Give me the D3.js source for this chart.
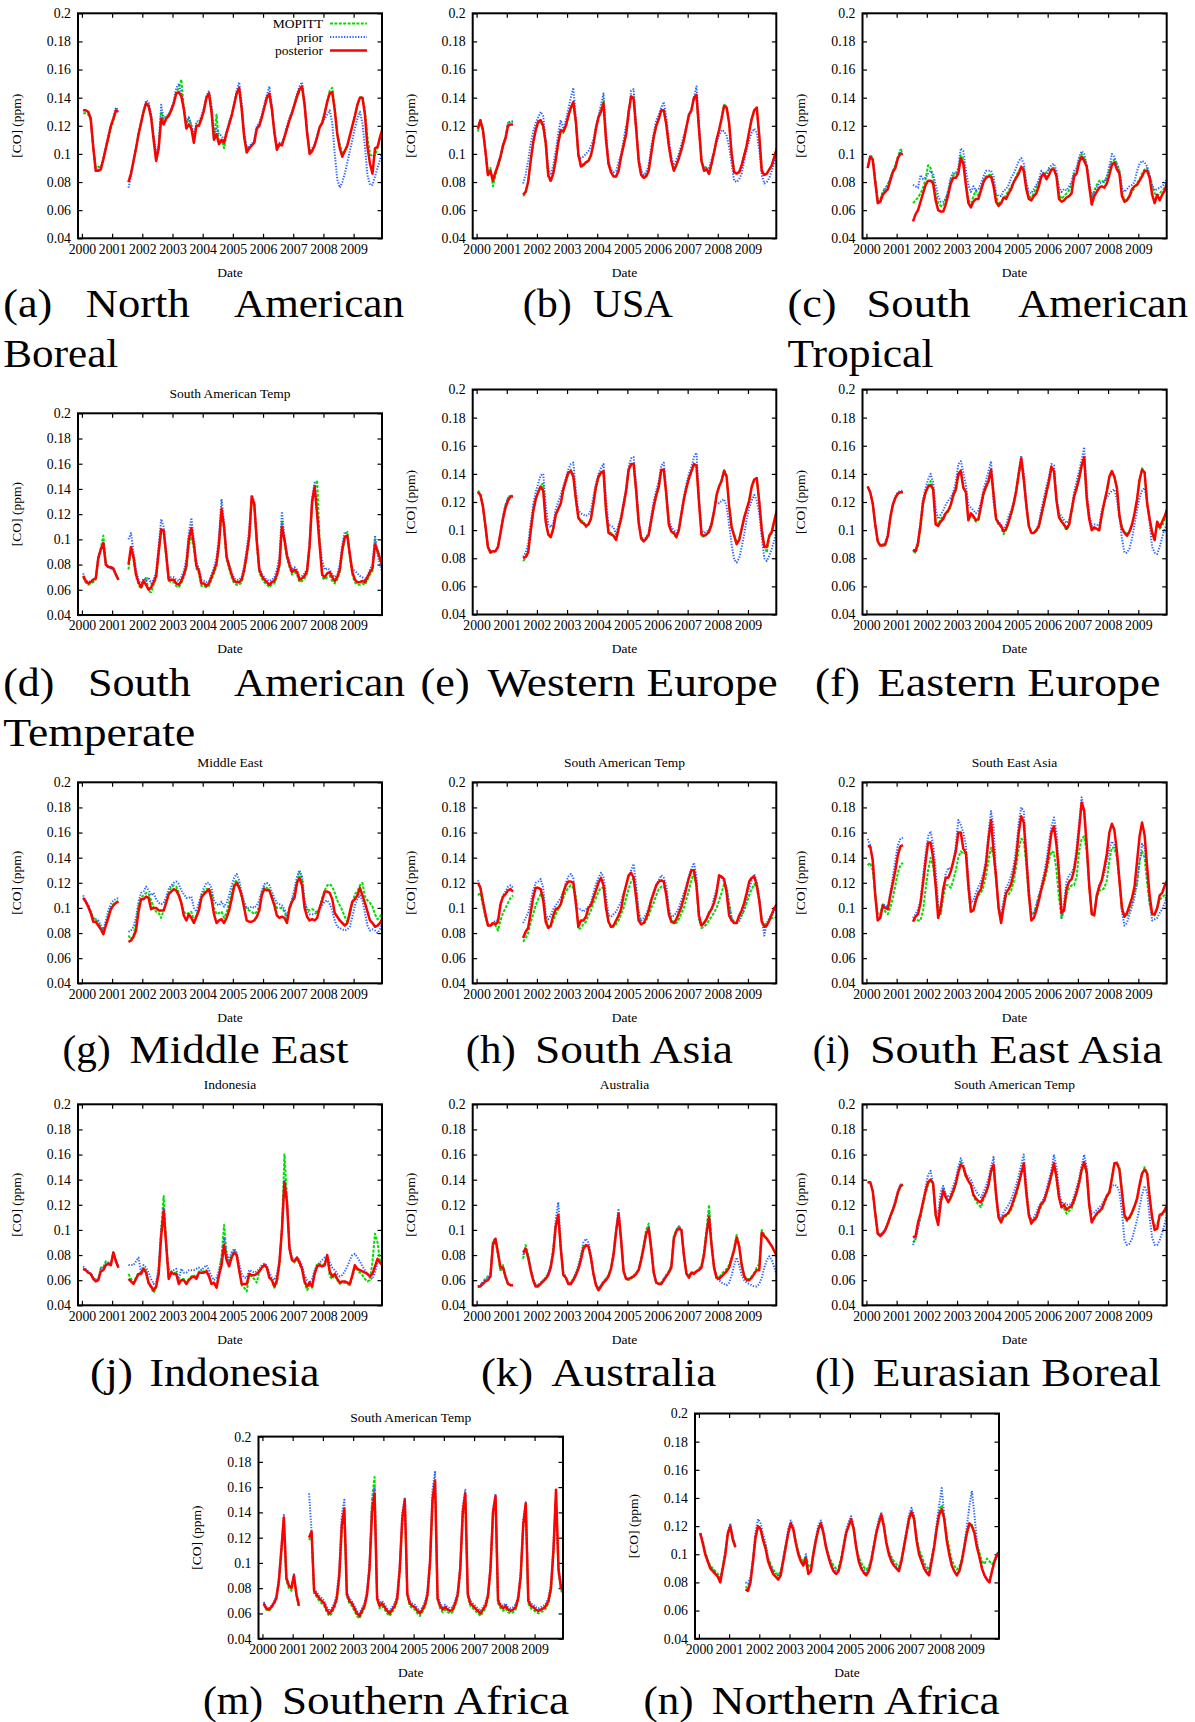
<!DOCTYPE html>
<html><head><meta charset="utf-8">
<script src="https://cdn.jsdelivr.net/npm/d3@7"></script>
<style>body{margin:0;background:#fff}svg{display:block}</style>
</head><body>
<svg id="c" width="1195" height="1722"></svg>
<script>
const N = null;
// ---- tick labels ----
const yTicks = [0.04,0.06,0.08,0.1,0.12,0.14,0.16,0.18,0.2];
const yearTicks = [2000,2001,2002,2003,2004,2005,2006,2007,2008,2009];
const seriesNames = ["MOPITT","prior","posterior"];
// ---- data: monthly [CO] in ppb, index 0 = Jan 2000 ----
const a_mop=[129,129,128,124,104,90,91,90,96,104,110,118,124,130,131,N,N,N,80,86,95,104,114,122,130,136,135,127,112,97,104,130,123,126,128,131,136,144,147,153,133,120,126,120,108,120,121,125,131,140,143,132,110,128,107,110,104,114,121,127,135,143,146,132,113,104,104,106,108,118,121,126,133,139,142,132,116,103,106,107,112,118,124,129,135,140,145,147,135,116,101,102,106,112,119,122,128,137,145,147,133,115,107,100,102,106,113,120,127,135,140,141,130,112,100,98,99,104,112,118];
const a_pri=[131,131,130,125,105,88,89,90,97,105,113,120,126,133,131,N,N,N,76,84,94,104,114,123,131,138,137,128,113,100,106,135,125,127,128,132,138,147,150,143,133,122,126,121,112,123,123,127,133,141,145,135,113,118,114,113,110,116,123,128,136,145,151,136,115,104,106,107,110,120,122,128,135,142,148,134,117,106,108,108,113,120,126,130,136,143,148,151,137,117,102,104,107,113,119,122,125,128,131,122,100,82,76,80,86,94,102,110,118,125,130,122,105,85,78,78,84,90,96,102];
const a_post=[131,131,130,125,105,88,88,89,96,104,112,120,125,131,130,N,N,N,80,86,95,104,114,122,130,136,134,126,110,95,104,125,121,125,127,131,136,143,144,141,132,118,121,118,108,120,120,125,131,140,143,130,110,114,107,110,108,115,121,127,135,143,147,132,112,101,104,106,108,118,120,126,133,140,143,132,115,103,107,106,112,118,124,129,135,141,146,148,135,115,100,102,106,112,119,122,129,137,143,144,131,114,104,98,102,106,113,120,127,135,140,140,128,105,93,86,104,105,112,118];

const b_mop=[116,122,118,103,86,90,77,85,91,97,105,112,122,123,123,N,N,N,70,72,80,94,107,116,122,123,119,107,84,80,86,96,108,116,115,119,126,132,135,122,99,92,93,94,95,99,107,118,126,131,138,112,93,87,84,84,88,98,106,114,130,140,141,118,95,85,84,85,89,100,112,120,125,130,131,121,106,95,89,92,97,103,110,119,127,131,139,140,118,96,90,91,85,92,101,110,117,126,135,134,122,101,88,86,87,92,99,106,116,125,131,132,113,89,85,86,89,91,98,104];
const b_pri=[118,124,117,102,85,88,81,87,93,99,107,112,122,123,123,N,N,N,79,85,95,107,116,122,126,130,127,110,90,85,92,102,115,124,118,124,132,140,147,125,98,97,98,100,102,106,110,120,127,135,143,115,95,89,87,88,94,100,110,120,125,145,146,120,98,88,85,87,92,105,115,124,128,133,137,126,110,98,92,96,100,107,113,120,126,132,140,148,122,95,90,90,90,96,102,108,113,117,116,113,105,93,81,80,82,86,95,103,110,115,118,115,103,85,79,80,83,88,94,100];
const b_post=[118,124,117,102,85,88,81,87,92,98,106,111,120,121,121,N,N,N,71,73,80,95,108,117,123,124,120,108,85,81,86,96,108,117,116,120,127,133,137,123,100,91,92,94,95,99,107,118,126,130,136,110,93,87,84,84,88,98,106,114,130,141,139,118,95,85,83,84,88,100,112,120,125,131,131,121,106,95,88,92,97,103,110,119,128,131,140,142,118,95,88,89,86,93,101,110,117,125,134,133,122,100,87,86,87,92,99,106,116,125,131,133,113,88,85,86,89,92,98,104];

const c_mop=[90,99,97,82,67,68,73,76,78,83,88,92,98,103,103,N,N,N,65,67,69,72,76,82,92,90,82,72,65,63,63,68,74,82,85,85,88,99,96,80,68,63,70,74,70,76,81,84,85,85,80,70,65,66,68,71,74,77,80,84,88,90,90,78,70,69,72,76,80,84,85,87,89,90,90,85,72,68,70,72,74,78,86,88,96,100,97,93,78,68,74,78,81,81,80,83,89,95,96,93,88,73,67,68,70,73,76,79,82,86,89,90,85,77,72,70,72,74,76,80];
const c_pri=[90,99,97,82,66,67,72,75,78,83,88,91,97,102,101,N,N,N,78,77,76,85,82,83,86,88,86,78,70,66,66,68,74,83,87,86,90,104,102,88,78,73,77,74,75,79,84,88,88,88,84,72,70,70,74,75,78,83,86,90,95,97,93,80,73,72,75,78,82,88,86,84,90,92,93,88,76,73,75,74,77,80,88,90,98,102,100,92,80,70,73,76,79,80,80,84,91,100,98,92,88,76,73,75,77,78,80,88,93,95,94,91,85,78,74,75,76,77,79,83];
const c_post=[90,98,96,80,65,66,71,73,75,81,87,90,97,100,100,N,N,N,52,57,60,66,72,78,81,81,79,67,60,59,59,64,71,79,83,83,86,97,93,78,65,62,66,68,68,74,80,83,84,84,77,66,63,65,69,68,72,75,80,83,86,91,88,75,68,67,70,72,77,84,86,82,85,89,89,84,68,66,67,69,70,72,84,86,94,98,95,91,77,64,70,73,76,77,76,79,85,92,94,89,86,70,66,67,70,75,77,78,81,84,88,88,83,71,65,71,67,71,74,80];

const d_mop=[70,66,64,65,66,68,85,93,103,82,78,77,76,72,68,N,N,N,76,92,85,71,64,61,65,70,59,58,64,69,88,108,105,86,67,66,66,63,62,65,70,77,95,102,93,77,73,63,63,62,63,68,73,79,95,123,108,84,77,70,65,64,64,66,74,86,100,130,128,97,74,69,66,64,62,64,65,70,78,115,98,85,78,72,74,72,66,67,69,73,93,128,140,147,98,70,68,70,71,67,65,68,74,90,100,106,86,72,66,64,64,65,64,68,72,75,100,90,83,77];
const d_pri=[73,68,66,67,68,70,86,92,98,80,78,77,76,72,68,N,N,N,100,105,90,75,68,64,69,67,70,65,68,74,95,116,110,90,70,70,70,68,67,70,75,84,105,117,100,82,77,68,67,66,67,72,78,85,103,132,113,88,80,74,69,68,68,70,79,92,108,135,130,100,78,73,70,68,67,68,70,76,86,122,102,89,82,76,78,76,70,71,73,77,98,133,145,120,98,83,76,77,76,72,70,72,80,96,106,102,88,76,75,73,71,70,68,71,76,80,103,88,80,72];
const d_post=[71,67,65,66,68,69,85,92,97,80,78,78,77,72,68,N,N,N,80,94,86,72,66,62,67,64,60,62,66,71,90,108,107,88,68,68,68,65,64,67,72,79,100,109,96,79,75,65,65,63,65,70,75,81,97,124,110,86,79,72,67,66,66,68,76,88,102,134,128,99,76,71,68,66,64,66,67,72,80,110,100,87,80,74,76,74,68,69,71,75,95,130,142,120,95,72,70,73,74,70,67,70,76,92,102,103,88,74,68,66,66,67,66,70,74,77,96,91,85,79];

const e_mop=[128,126,117,103,88,85,85,85,88,98,109,118,123,124,124,N,N,N,78,80,84,99,113,122,127,132,133,107,97,95,100,111,115,119,128,134,140,143,139,123,108,107,106,102,104,108,119,130,137,140,142,115,99,98,96,93,100,108,117,127,142,146,146,128,106,94,93,94,96,106,116,124,130,142,143,126,105,99,97,95,100,111,121,130,136,141,146,146,121,96,95,97,98,104,113,124,131,136,143,139,118,103,97,91,93,100,108,115,121,130,136,137,121,101,90,84,95,98,106,113];
const e_pri=[127,125,117,103,88,85,85,85,88,98,110,118,123,125,124,N,N,N,81,84,90,105,118,127,133,139,140,118,104,102,105,115,120,125,131,137,143,147,148,128,114,112,111,110,111,114,124,133,140,144,147,122,104,103,102,97,104,110,120,130,145,151,152,132,108,96,93,95,98,110,121,128,135,146,148,128,108,102,100,98,102,113,124,133,140,145,152,155,124,100,98,99,100,106,115,120,119,121,122,117,104,90,79,77,80,88,97,108,116,121,125,121,112,95,80,78,82,87,93,100];
const e_post=[127,125,117,103,88,84,85,85,88,98,108,116,121,124,124,N,N,N,80,81,84,99,113,122,127,131,128,106,97,95,101,111,115,119,129,135,141,142,138,122,109,106,105,103,104,108,119,131,138,141,142,114,98,97,96,93,101,108,118,128,143,147,147,128,105,94,92,94,97,107,117,125,131,143,143,125,104,99,98,95,100,111,122,130,137,142,147,146,120,97,96,97,99,104,113,125,131,135,142,138,117,102,96,90,93,101,109,115,121,131,136,137,120,100,88,88,96,99,107,114];

const f_mop=[131,127,119,104,92,89,90,89,95,108,118,123,126,127,127,N,N,N,85,84,89,102,118,126,131,135,130,106,104,108,110,112,113,117,124,128,138,143,131,127,108,110,109,106,107,116,125,130,134,143,128,108,104,102,97,100,105,111,118,127,139,149,136,118,103,98,98,99,102,110,118,126,134,144,142,122,110,107,103,100,103,113,123,129,136,145,151,124,108,101,101,100,100,110,119,127,137,141,138,130,111,102,99,97,99,103,111,121,135,144,141,120,108,99,94,104,101,103,108,114];
const f_pri=[131,127,119,104,92,89,89,91,97,110,119,124,127,128,128,N,N,N,86,85,92,106,122,130,136,140,134,115,108,111,114,118,121,123,127,134,147,149,141,132,118,116,114,112,114,120,129,135,142,149,120,108,106,104,100,104,110,114,120,129,142,153,141,120,103,98,98,100,105,115,123,131,138,147,146,124,112,110,107,105,107,115,127,135,142,150,159,128,112,103,104,104,103,114,120,123,126,128,129,122,110,94,84,84,87,94,104,114,123,128,130,121,105,88,84,83,88,95,101,105];
const f_post=[131,127,119,104,92,89,89,90,96,109,118,123,126,127,127,N,N,N,86,85,91,104,120,127,131,132,129,104,103,106,108,112,114,118,125,129,140,142,130,127,107,112,110,107,108,117,126,131,135,143,125,108,105,103,99,101,106,112,119,128,140,151,136,118,103,98,98,100,103,111,119,127,135,145,142,121,109,106,104,101,104,114,124,130,137,146,152,123,108,100,102,101,100,111,120,128,138,142,138,130,110,101,98,96,99,104,112,122,136,143,141,119,108,98,93,106,102,106,110,115];

const g_mop=[108,105,102,97,92,91,88,85,82,87,94,100,103,104,106,N,N,N,78,75,78,88,102,108,110,112,111,106,100,97,96,92,98,106,112,117,118,117,112,104,97,95,96,97,90,94,100,110,113,115,115,112,100,95,96,97,92,96,104,112,120,122,118,108,102,99,98,97,95,97,101,112,117,116,114,110,104,100,100,100,97,91,98,106,112,121,128,123,104,99,98,99,98,96,100,108,114,118,119,117,112,106,102,98,93,89,94,104,111,113,118,120,109,106,104,101,95,91,93,97];
const g_pri=[110,106,102,97,91,91,90,86,82,90,98,103,106,107,108,N,N,N,81,82,85,92,105,112,113,117,114,110,112,107,104,103,104,109,115,118,120,121,119,114,111,108,108,109,100,97,104,111,116,120,120,116,106,103,102,105,101,104,110,118,124,127,122,112,105,100,100,101,100,102,106,114,119,120,118,113,108,104,103,102,99,93,100,107,115,125,130,125,106,98,95,95,95,97,99,102,105,106,103,98,90,85,84,83,82,83,85,93,102,107,110,106,96,86,82,83,82,80,83,90];
const g_post=[108,105,101,96,89,89,86,83,79,86,92,99,102,104,105,N,N,N,73,74,77,82,97,107,107,109,108,99,100,100,98,98,98,104,111,113,115,114,110,104,94,90,95,92,88,93,98,108,111,113,115,107,95,88,90,91,88,92,98,107,117,120,116,110,100,90,89,89,90,93,98,110,115,114,114,108,102,94,92,93,92,88,100,105,108,120,124,118,100,93,90,91,90,92,100,106,113,113,112,107,96,93,90,88,86,88,97,105,107,110,116,110,104,97,90,88,85,86,88,92];

const h_mop=[110,112,102,93,86,86,87,86,82,90,96,100,104,108,110,N,N,N,73,76,80,88,95,102,107,111,110,92,85,85,90,95,99,103,108,113,116,118,116,109,83,84,87,89,94,98,104,108,113,116,116,103,89,84,85,87,90,95,100,108,115,121,124,114,95,87,87,90,94,100,104,110,115,117,117,113,97,91,88,88,91,96,100,107,114,122,128,117,92,84,85,87,90,93,96,100,106,112,119,116,103,92,89,88,92,94,98,104,110,115,119,116,106,90,86,88,90,92,92,93];
const h_pri=[122,117,106,95,87,86,88,90,90,100,110,113,117,118,116,N,N,N,88,92,96,104,114,120,121,123,116,95,91,94,99,102,105,108,113,120,125,127,124,101,99,99,97,99,101,104,112,119,124,128,125,110,94,93,95,97,101,105,112,118,124,130,135,118,97,90,92,95,100,107,113,118,122,126,124,118,100,93,94,96,100,106,112,118,125,131,136,125,90,86,88,92,96,100,108,115,122,125,121,117,103,92,88,88,89,94,100,108,115,122,127,121,108,92,78,88,92,95,97,100];
const h_post=[120,116,105,95,86,86,88,87,89,103,109,111,114,115,113,N,N,N,76,81,84,96,108,116,116,115,106,89,84,86,94,99,100,103,112,118,121,121,120,104,85,90,90,93,100,102,108,114,120,124,118,100,89,85,86,90,94,99,110,118,126,128,124,108,90,87,88,92,98,106,112,118,121,122,121,110,95,89,88,91,96,101,108,116,124,130,130,118,94,86,88,91,96,99,104,112,126,125,123,112,94,90,88,88,94,98,104,112,121,124,125,118,106,89,85,86,90,95,100,103];

const i_mop=[134,136,130,112,95,95,103,97,95,100,108,118,128,134,136,N,N,N,90,91,90,90,98,115,130,140,133,118,100,95,108,118,118,116,122,130,140,145,143,145,115,96,100,107,110,112,117,125,138,148,142,122,100,91,100,110,111,114,121,133,147,155,154,135,108,95,96,102,110,114,120,128,138,145,144,130,108,92,98,110,116,118,118,125,145,155,157,145,118,96,95,108,114,114,116,122,138,148,148,140,122,100,93,94,98,104,112,120,137,145,140,120,103,95,94,100,106,109,110,106];
const i_pri=[155,150,138,110,90,93,103,102,101,112,125,138,150,155,156,N,N,N,92,95,99,106,125,143,157,161,150,130,103,96,112,127,132,130,136,150,170,166,160,150,123,104,106,112,117,121,128,138,160,177,165,125,100,95,106,116,120,126,134,147,168,180,177,145,115,95,95,102,110,118,127,138,152,165,172,160,130,92,104,121,126,128,133,148,168,188,178,150,118,96,95,110,118,122,127,137,147,153,150,143,122,97,86,88,95,101,108,120,137,151,148,128,105,90,91,92,96,99,104,110];
const i_post=[149,149,138,110,90,92,102,100,99,110,120,130,142,149,150,N,N,N,89,93,95,104,120,137,152,152,140,118,92,100,115,124,124,129,137,145,160,160,147,144,118,97,98,106,112,115,124,135,155,170,145,125,100,88,101,112,115,119,128,140,160,173,168,140,112,90,92,98,106,115,123,132,145,160,165,150,127,96,98,115,121,123,130,143,163,184,177,150,118,95,94,110,117,122,132,143,160,167,162,145,122,100,93,96,102,108,117,137,157,168,158,133,110,95,95,100,110,112,118,122];

const j_mop=[69,68,66,65,62,60,60,70,70,75,74,73,82,76,70,N,N,N,65,61,58,62,66,66,70,67,57,54,50,54,66,100,127,90,62,67,66,66,58,61,61,58,61,63,64,62,67,67,67,68,64,57,58,55,66,78,104,80,72,80,84,81,68,56,54,51,64,63,61,58,67,70,73,71,62,60,54,58,72,100,160,125,86,76,74,77,73,68,58,52,56,54,66,73,73,72,73,79,63,61,64,60,57,58,58,57,56,63,70,68,66,64,61,59,60,75,97,90,75,70];
const j_pri=[71,69,67,65,62,60,61,69,70,74,74,73,82,76,70,N,N,N,72,72,72,75,78,66,72,70,66,61,57,59,70,100,118,88,69,67,68,69,60,69,66,66,68,68,68,69,70,68,70,72,68,63,60,62,68,78,93,82,76,82,85,82,73,65,62,62,68,67,66,67,69,72,73,72,66,62,60,65,75,100,140,125,88,78,76,78,76,72,64,60,58,61,68,72,74,76,78,78,74,70,68,65,63,64,67,71,76,80,81,78,75,71,68,65,62,61,66,74,75,75];
const j_post=[69,68,66,65,61,59,60,67,68,72,73,72,82,75,70,N,N,N,61,59,57,61,65,65,69,66,58,55,52,55,65,95,115,88,61,66,65,65,57,60,60,57,60,62,63,61,66,66,66,67,63,57,58,54,64,72,88,76,71,78,82,80,68,57,57,57,65,64,64,65,67,70,72,70,62,60,55,60,74,100,138,122,85,76,75,78,74,69,59,55,58,55,65,71,72,71,72,80,67,63,65,61,58,59,59,58,57,64,72,69,68,67,66,65,63,65,71,77,74,72];

const k_mop=[54,56,59,61,63,65,92,92,80,67,72,62,57,56,56,N,N,N,77,88,80,69,61,56,56,58,60,62,65,72,84,104,112,86,65,62,58,58,61,65,70,78,87,88,86,77,65,57,53,56,59,61,64,70,82,100,113,92,67,61,60,61,63,65,69,78,88,100,105,86,66,58,57,58,61,64,67,72,95,100,103,100,80,66,63,66,66,67,69,72,82,100,120,90,71,63,62,65,67,69,72,78,86,96,88,73,64,61,61,63,66,70,73,100,96,93,90,87,83,79];
const k_pri=[55,56,58,60,62,64,90,93,82,70,71,62,57,56,56,N,N,N,80,86,80,70,61,56,56,58,60,62,66,72,85,108,122,88,66,63,58,58,61,66,72,80,90,93,90,80,66,57,53,56,59,61,64,70,82,100,117,94,68,62,61,62,64,66,69,77,87,98,103,86,66,58,57,58,61,64,67,71,94,100,103,100,80,66,63,66,66,67,69,71,81,98,113,89,70,61,60,58,57,56,58,64,72,78,72,64,60,58,57,56,55,55,57,62,70,76,79,76,70,64];
const k_post=[55,55,57,59,60,63,88,93,82,70,70,63,57,56,56,N,N,N,82,85,78,68,60,55,55,57,59,61,64,70,82,103,112,85,64,62,57,57,60,64,69,76,85,88,87,78,65,56,52,55,58,60,63,69,80,98,113,92,67,61,61,62,63,65,68,76,86,97,101,85,66,58,57,57,60,63,66,70,93,99,101,100,80,65,62,66,65,67,68,70,80,97,110,88,70,62,61,63,65,67,70,77,84,94,87,72,63,60,60,62,65,68,68,98,95,93,90,87,83,79];

const l_mop=[138,138,131,114,98,96,98,100,104,110,115,121,129,134,136,N,N,N,90,93,102,110,120,129,136,140,136,112,106,120,134,128,122,125,130,136,145,154,150,142,140,135,127,123,120,118,124,129,135,146,150,127,110,107,110,111,113,116,122,128,135,144,152,130,112,106,107,109,114,119,122,128,135,143,152,141,125,118,117,113,115,117,122,129,136,147,152,145,120,107,109,112,114,116,121,126,129,140,153,154,150,132,110,107,109,113,118,124,134,144,150,146,128,108,103,105,110,112,114,118];
const l_pri=[138,138,131,114,97,96,98,101,106,112,117,124,131,136,137,N,N,N,88,93,101,112,123,134,144,147,136,115,113,130,135,128,126,129,135,141,150,157,152,145,142,140,135,131,128,126,130,135,141,150,158,130,113,110,114,117,120,124,130,136,143,152,160,135,114,108,110,114,119,122,125,132,140,148,160,150,132,121,122,120,120,121,127,134,141,151,160,150,122,113,114,116,118,120,124,127,131,135,136,135,130,115,92,88,89,93,100,108,118,128,135,130,110,94,88,88,92,98,105,113];
const l_post=[138,138,131,113,97,95,97,100,105,111,116,122,130,135,136,N,N,N,94,95,106,113,122,131,138,140,137,112,104,122,131,126,122,126,131,137,146,152,150,143,139,136,128,125,123,122,126,130,136,147,152,128,110,106,111,112,114,118,124,130,137,145,153,130,112,105,108,110,116,121,123,129,136,144,153,142,126,118,120,116,118,119,124,130,138,148,154,146,120,106,110,113,115,117,122,127,130,141,153,153,148,130,112,108,110,114,119,125,136,145,148,145,126,110,100,101,112,113,116,120];

const m_mop=[67,63,62,64,67,71,84,108,130,86,80,78,88,74,65,N,N,N,118,122,76,73,70,68,66,61,58,60,64,70,88,125,140,74,68,66,62,58,56,60,64,74,96,150,168,72,64,66,63,60,58,61,64,70,93,132,148,74,66,64,63,60,58,61,65,73,98,148,165,71,64,61,63,61,60,61,66,73,93,136,150,73,66,64,62,60,58,61,64,72,93,136,150,68,64,62,64,61,60,61,63,70,88,128,145,68,64,63,61,60,61,62,64,68,78,108,150,92,78,76];
const m_pri=[69,65,64,66,69,74,88,112,138,90,83,81,91,76,67,N,N,N,155,125,80,77,74,72,70,65,62,64,68,75,95,138,150,78,72,70,66,62,60,64,68,78,100,148,160,75,68,70,67,64,62,65,68,75,98,140,152,77,70,68,67,64,62,65,69,78,104,158,172,75,68,65,67,65,64,65,70,78,98,145,158,77,70,68,66,64,62,65,68,76,98,142,155,72,68,66,68,65,64,65,67,74,93,134,148,72,68,67,65,64,65,66,68,72,84,115,150,96,82,80];
const m_post=[68,64,63,65,68,72,85,110,136,88,82,80,90,75,66,N,N,N,120,125,78,75,72,70,68,63,60,62,66,72,90,130,143,75,70,68,64,60,58,62,66,75,95,140,155,72,66,68,65,62,60,63,66,72,95,135,150,75,68,66,65,62,60,63,67,75,100,150,165,72,66,63,65,63,62,63,68,75,95,140,155,75,68,66,64,62,60,63,66,74,95,140,153,70,66,64,66,63,62,63,65,72,90,130,147,70,66,65,63,62,63,64,66,70,80,110,158,95,80,78];

const n_mop=[115,110,102,96,92,90,88,86,83,92,102,114,119,112,106,N,N,N,77,76,82,96,112,119,118,111,106,97,93,89,87,85,88,97,106,115,121,118,109,102,97,95,99,92,91,101,110,118,121,115,106,100,95,92,90,91,97,106,115,120,124,118,106,98,94,91,89,91,97,106,115,122,127,120,109,102,98,95,93,91,97,106,115,124,130,126,112,103,99,94,91,89,97,106,118,130,135,127,113,104,96,92,89,91,97,106,115,121,121,116,107,101,95,93,97,95,93,95,98,103];
const n_pri=[115,109,101,95,91,89,87,85,82,91,102,116,122,111,106,N,N,N,80,79,84,98,116,125,122,114,108,97,92,88,86,84,87,97,107,118,124,120,109,101,96,93,100,87,89,102,112,121,124,117,106,99,94,90,88,89,96,107,117,123,127,120,106,97,92,89,87,89,96,107,117,125,130,122,109,101,97,93,91,89,96,107,117,128,133,128,112,102,97,92,89,87,97,107,122,135,147,128,111,100,92,88,86,88,95,107,120,134,145,128,110,98,90,85,82,82,88,95,100,103];
const n_post=[115,108,100,95,90,88,86,84,80,90,100,115,120,110,105,N,N,N,75,74,80,95,112,120,118,110,104,95,90,86,84,82,85,95,105,115,122,118,108,100,95,92,97,86,88,100,110,118,122,115,105,98,92,88,86,88,95,105,115,120,125,118,105,95,90,87,85,88,95,105,115,122,128,120,108,100,95,92,90,88,95,105,115,125,130,125,110,100,95,90,87,85,95,105,118,128,132,125,110,100,92,88,85,88,95,105,115,122,120,115,105,98,90,85,82,80,88,95,100,102];

// ---- layout (pixel boxes) ----
const C1=[78,382], C2=[472.7,776.3], C3=[862.5,1166.7];
const panels=[
 {s:[a_mop,a_pri,a_post], x:C1, y:[13.3,238.3], title:null, legend:true},
 {s:[b_mop,b_pri,b_post], x:C2, y:[13.3,238.3], title:null},
 {s:[c_mop,c_pri,c_post], x:C3, y:[13.3,238.3], title:null},
 {s:[d_mop,d_pri,d_post], x:C1, y:[413.3,615], title:"South American Temp"},
 {s:[e_mop,e_pri,e_post], x:C2, y:[389.5,614.5], title:null},
 {s:[f_mop,f_pri,f_post], x:C3, y:[389.5,614.5], title:null},
 {s:[g_mop,g_pri,g_post], x:C1, y:[782.3,983.3], title:"Middle East"},
 {s:[h_mop,h_pri,h_post], x:C2, y:[782.3,983.3], title:"South American Temp"},
 {s:[i_mop,i_pri,i_post], x:C3, y:[782.3,983.3], title:"South East Asia"},
 {s:[j_mop,j_pri,j_post], x:C1, y:[1104.3,1305.3], title:"Indonesia"},
 {s:[k_mop,k_pri,k_post], x:C2, y:[1104.3,1305.3], title:"Australia"},
 {s:[l_mop,l_pri,l_post], x:C3, y:[1104.3,1305.3], title:"South American Temp"},
 {s:[m_mop,m_pri,m_post], x:[258.5,563], y:[1436.6,1638.7], title:"South American Temp"},
 {s:[n_mop,n_pri,n_post], x:[695,999], y:[1413.5,1638.7], title:null}
];
// captions: [text, left x, baseline y, width]
const captions=[
 ["(a)",3.3,317,49],["North",85.7,317,104],["American",234,317,170],["Boreal",3.3,367,115],
 ["(b)",522.8,317,49],["USA",593,317,80],
 ["(c)",787.5,317,49],["South",866.6,317,104],["American",1018,317,170],["Tropical",787.5,367,146],
 ["(d)",3.3,696,51],["South",87.9,696,103],["American",234,696,171],["Temperate",3.3,746,192],
 ["(e)",420.6,696,49],["Western Europe",487.6,696,290],
 ["(f)",815,696,45],["Eastern Europe",877.5,696,283],
 ["(g)",62.6,1063,48],["Middle East",129.6,1063,219],
 ["(h)",465.7,1063,50],["South Asia",535,1063,198],
 ["(i)",812.7,1063,37],["South East Asia",869.9,1063,293],
 ["(j)",90,1386,43],["Indonesia",149.4,1386,170],
 ["(k)",481,1386,52],["Australia",551.3,1386,165],
 ["(l)",815,1386,40],["Eurasian Boreal",873,1386,288],
 ["(m)",203,1714,60],["Southern Africa",282,1714,287],
 ["(n)",643.6,1714,50],["Northern Africa",711.7,1714,288]
];

const svg=d3.select("#c");
const FONT="'Liberation Serif','Times New Roman',serif";
const colors=["#00dd00","#2a66ff","#ff0000"];
const dashes=["3,1.4","1.3,1.5",null];
const widths=[2,2,2.5];
const xDomain=[1999.87,2009.94];
const TK=4.5;
const fmtY=d=>String(+d.toFixed(2));

panels.forEach((p,pi)=>{
  const [L,R]=p.x,[T,B]=p.y;
  const x=d3.scaleLinear().domain(xDomain).range([L,R]);
  const y=d3.scaleLinear().domain([0.04,0.2]).range([B,T]);
  const g=svg.append("g");
  const cid="clip"+pi;
  svg.append("clipPath").attr("id",cid).append("rect")
    .attr("x",L).attr("y",T).attr("width",R-L).attr("height",B-T);
  const style=sel=>{sel.attr("font-family",FONT).attr("font-size",13.8);
    sel.selectAll(".domain").remove(); sel.selectAll("line").attr("stroke-width",1.2);};
  g.append("g").attr("transform",`translate(${L},0)`)
    .call(d3.axisLeft(y).tickValues(yTicks).tickSizeInner(-TK).tickSizeOuter(0).tickPadding(7).tickFormat(fmtY)).call(style);
  g.append("g").attr("transform",`translate(${R},0)`)
    .call(d3.axisRight(y).tickValues(yTicks).tickSizeInner(-TK).tickSizeOuter(0).tickFormat("")).call(style);
  g.append("g").attr("transform",`translate(0,${B})`)
    .call(d3.axisBottom(x).tickValues(yearTicks).tickSizeInner(-TK).tickSizeOuter(0).tickPadding(5.5).tickFormat(d3.format("d"))).call(style);
  g.append("g").attr("transform",`translate(0,${T})`)
    .call(d3.axisTop(x).tickValues(yearTicks).tickSizeInner(-TK).tickSizeOuter(0).tickFormat("")).call(style);
  g.selectAll("text").attr("fill","#000");
  g.append("text").attr("x",(L+R)/2).attr("y",B+38.4).attr("text-anchor","middle")
    .attr("font-family",FONT).attr("font-size",13.5).text("Date");
  g.append("text").attr("transform",`translate(${L-62},${(T+B)/2}) rotate(-90)`)
    .attr("text-anchor","middle").attr("dy","0.35em")
    .attr("font-family",FONT).attr("font-size",13.5).text("[CO] (ppm)");
  if(p.title) g.append("text").attr("x",(L+R)/2).attr("y",T-15).attr("text-anchor","middle")
    .attr("font-family",FONT).attr("font-size",13.5).text(p.title);
  const line=d3.line().defined(d=>d.v!=null).x(d=>x(d.t)).y(d=>y(d.v/1000));
  const lg=g.append("g").attr("clip-path",`url(#${cid})`);
  p.s.forEach((arr,si)=>{
    const pts=arr.map((v,i)=>({t:2000+(i+0.5)/12,v}));
    lg.append("path").datum(pts).attr("d",line).attr("fill","none")
      .attr("stroke",colors[si]).attr("stroke-width",widths[si])
      .attr("stroke-dasharray",dashes[si]).attr("stroke-linejoin","round");
  });
  g.append("rect").attr("x",L).attr("y",T).attr("width",R-L).attr("height",B-T)
    .attr("fill","none").attr("stroke","#000").attr("stroke-width",2);
  if(p.legend){
    const lx=R-59, base=[28,41.5,55];
    seriesNames.forEach((nm,si)=>{
      g.append("text").attr("x",lx).attr("y",base[si]).attr("text-anchor","end")
        .attr("font-family",FONT).attr("font-size",13.5).text(nm);
      g.append("line").attr("x1",lx+7).attr("x2",lx+44).attr("y1",base[si]-4.5).attr("y2",base[si]-4.5)
        .attr("stroke",colors[si]).attr("stroke-width",widths[si]).attr("stroke-dasharray",dashes[si]);
    });
  }
});
svg.append("g").selectAll("text").data(captions).join("text")
  .attr("x",d=>d[1]).attr("y",d=>d[2]).attr("textLength",d=>d[3])
  .attr("lengthAdjust","spacingAndGlyphs")
  .attr("font-family",FONT).attr("font-size",41).text(d=>d[0]);
</script>
</body></html>
